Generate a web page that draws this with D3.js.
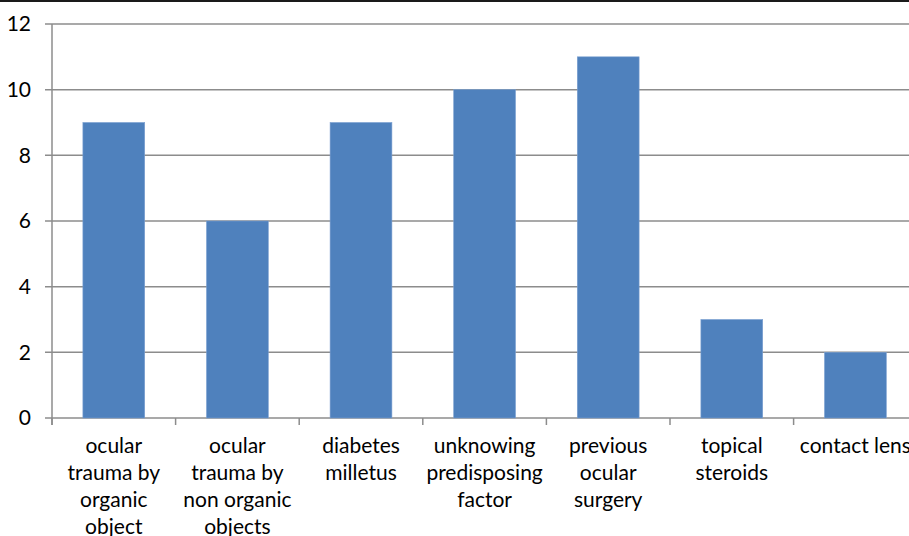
<!DOCTYPE html>
<html>
<head>
<meta charset="utf-8">
<script src="https://cdn.jsdelivr.net/npm/d3@7"></script>
<style>
  body { margin: 0; background: #fff; overflow: hidden; }
  text { font-family: Lato, "Open Sans", sans-serif; fill: #000; }
</style>
</head>
<body>
<script>
// categories and counts
const categories = [
    ["ocular", "trauma by", "organic", "object"],
    ["ocular", "trauma by", "non organic", "objects"],
    ["diabetes", "milletus"],
    ["unknowing", "predisposing", "factor"],
    ["previous", "ocular", "surgery"],
    ["topical", "steroids"],
    ["contact lens"]
];
const counts = [9, 6, 9, 10, 11, 3, 2];
const yTicks = [0, 2, 4, 6, 8, 10, 12];

var width = 909, height = 536;
var plotLeft = 52, plotW = 7 * 123.6, plotTop = 24, plotBottom = 418;

var svg = d3.select("body").append("svg")
    .attr("width", width)
    .attr("height", height);

// dark border line across the top
svg.append("line")
    .attr("x1", 0).attr("x2", width)
    .attr("y1", 1).attr("y2", 1)
    .attr("stroke", "#1a1a1a")
    .attr("stroke-width", 2);

var x = d3.scaleBand().domain(d3.range(categories.length))
    .range([plotLeft, plotLeft + plotW]).paddingInner(0).paddingOuter(0);
var y = d3.scaleLinear().domain([0, 12]).range([plotBottom, plotTop]);

// gridlines
svg.append("g").selectAll("line").data(yTicks).enter()
    .append("line")
    .attr("x1", plotLeft - 7).attr("x2", plotLeft + plotW)
    .attr("y1", d => y(d)).attr("y2", d => y(d))
    .attr("stroke", "#8c8c8c")
    .attr("stroke-width", 1.5);

// y axis line
svg.append("line")
    .attr("x1", plotLeft).attr("x2", plotLeft)
    .attr("y1", y(12)).attr("y2", plotBottom + 7)
    .attr("stroke", "#8c8c8c")
    .attr("stroke-width", 1.5);

// x ticks at category boundaries
svg.append("g").selectAll("line").data(d3.range(categories.length + 1)).enter()
    .append("line")
    .attr("x1", i => plotLeft + i * x.bandwidth()).attr("x2", i => plotLeft + i * x.bandwidth())
    .attr("y1", plotBottom).attr("y2", plotBottom + 7)
    .attr("stroke", "#8c8c8c")
    .attr("stroke-width", 1.5);

// y tick labels
svg.append("g").selectAll("text").data(yTicks).enter()
    .append("text")
    .attr("x", 31)
    .attr("y", d => y(d))
    .attr("dy", "0.35em")
    .attr("text-anchor", "end")
    .attr("font-size", 21)
    .text(d => d);

// bars
var barW = x.bandwidth() / 2;
svg.append("g").selectAll("rect").data(counts).enter()
    .append("rect")
    .attr("x", (d, i) => x(i) + (x.bandwidth() - barW) / 2)
    .attr("y", d => y(d))
    .attr("width", barW)
    .attr("height", d => y(0) - y(d))
    .attr("fill", "#4f81bd")
    .attr("stroke", "#7a9fd0")
    .attr("stroke-width", 0.6);

// category labels
var lab = svg.append("g").selectAll("text").data(categories).enter()
    .append("text")
    .attr("text-anchor", "middle")
    .attr("font-size", 21)
    .attr("x", (d, i) => x(i) + x.bandwidth() / 2);
lab.selectAll("tspan").data(d => d).enter()
    .append("tspan")
    .attr("x", function() { return d3.select(this.parentNode).attr("x"); })
    .attr("y", (d, j) => 446 + j * 27)
    .attr("dy", "0.35em")
    .text(d => d);
</script>
</body>
</html>
